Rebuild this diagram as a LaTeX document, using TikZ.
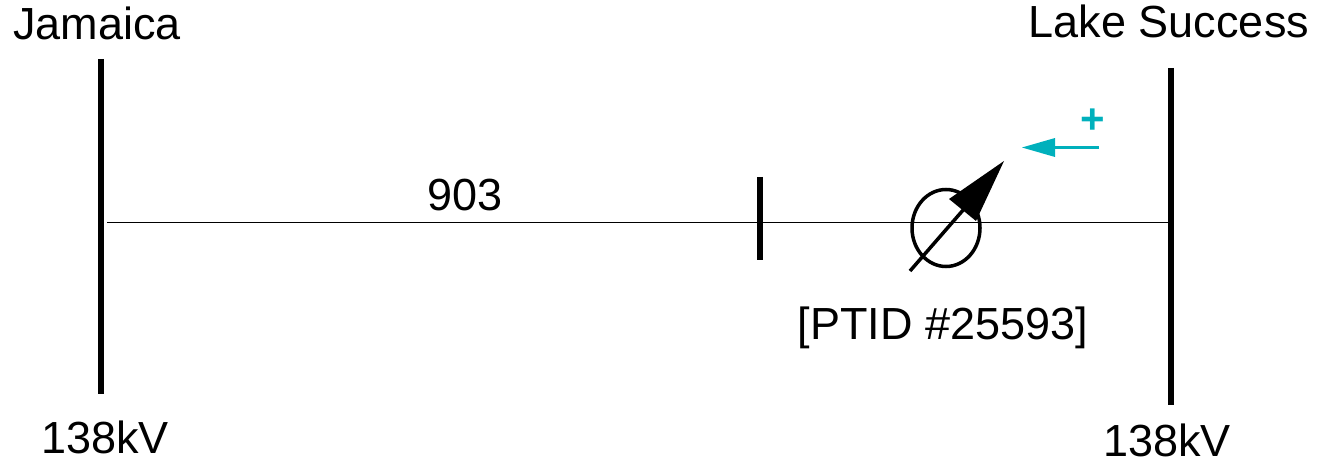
\documentclass[tikz,border=0pt]{standalone}
\usepackage{fontspec}
\usetikzlibrary{shapes.geometric}
\setmainfont{Liberation Sans}
\definecolor{teal1}{HTML}{00B0BC}
\tikzset{
  busbar/.style={line width=6.5pt,black},
  lbl/.style={font=\fontsize{45}{47}\selectfont,inner sep=0pt,anchor=center,text=black},
}
\begin{document}
\begin{tikzpicture}[x=1pt,y=-1pt]
\useasboundingbox (0,0) rectangle (1325,462);
\coordinate (jt) at (101,59); \coordinate (jb) at (101,394);
\coordinate (lt) at (1171,68); \coordinate (lb) at (1171,405);
\coordinate (ls) at (107,222.5); \coordinate (le) at (1171,222.5);
\coordinate (st) at (760,177); \coordinate (sb) at (760,260);
\coordinate (as) at (910,271); \coordinate (ae) at (1004,161);
\coordinate (ab) at (964,209);
\coordinate (ts) at (1099,147.5); \coordinate (te) at (1022,147.5);
\coordinate (tb) at (1055,147.5);
\draw[busbar] (jt) -- (jb);
\draw[busbar] (lt) -- (lb);
\draw[line width=1.5pt] (ls) -- (le);
\draw[line width=5.5pt] (st) -- (sb);
\node[draw,ellipse,line width=3.5pt,minimum width=68pt,minimum height=77pt,inner sep=0pt] (pst) at (946,228) {};
\draw[line width=3.5pt] (as) -- (ab);
\fill (ae) -- (949,199) -- (976,221) -- cycle;
\draw[teal1,line width=3.5pt] (ts) -- (tb);
\fill[teal1] (te) -- (1055,138) -- (1055,157) -- cycle;
\node[font=\fontsize{42}{44}\selectfont\bfseries,text=teal1,inner sep=0pt] (plus) at (1093,121) {+};
\node[lbl] (jam) at (97,23) {Jamaica};
\node[lbl] (lake) at (1169,21) {Lake Success};
\node[lbl] (n903) at (465,195) {903};
\node[lbl] (ptid) at (943,328) {[PTID \#25593]};
\node[lbl] (k1) at (105,437) {138kV};
\node[lbl] (k2) at (1167,440) {138kV};
\end{tikzpicture}
\end{document}
